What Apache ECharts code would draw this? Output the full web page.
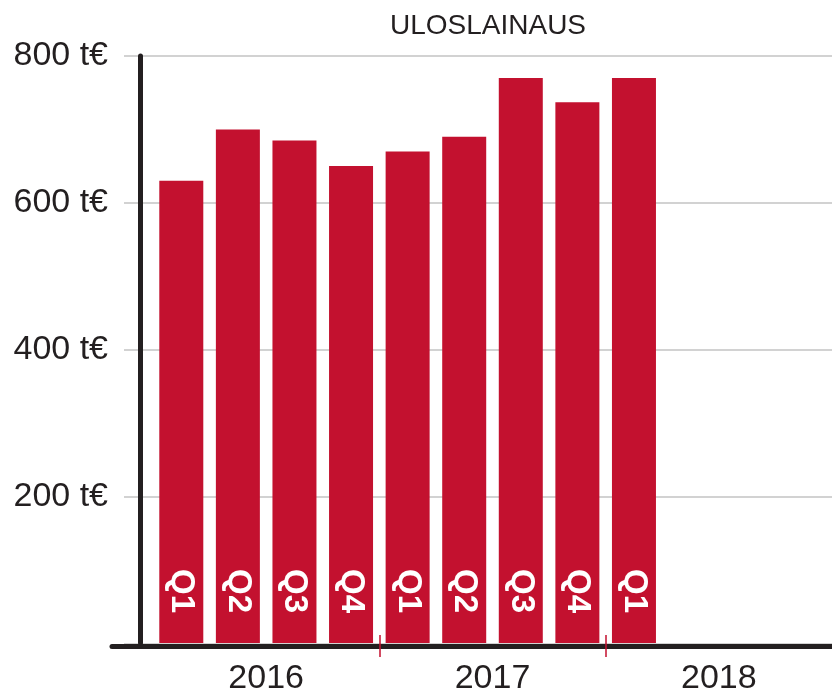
<!DOCTYPE html>
<html>
<head>
<meta charset="utf-8">
<script src="https://cdn.jsdelivr.net/npm/echarts@6/dist/echarts.min.js"></script>
<style>
  html, body { margin: 0; padding: 0; background: #fff; }
  #Chart { width: 832px; height: 696px; }
</style>
</head>
<body>
<div id="Chart"></div>
<script>
var quarterSlots = ['2016 Q1', '2016 Q2', '2016 Q3', '2016 Q4',
                    '2017 Q1', '2017 Q2', '2017 Q3', '2017 Q4',
                    '2018 Q1', '2018 Q2', '2018 Q3', '2018 Q4'];
var quarterLabels = ['Q1', 'Q2', 'Q3', 'Q4', 'Q1', 'Q2', 'Q3', 'Q4', 'Q1'];
var lending = [630, 700, 685, 650, 670, 690, 770, 737, 770];
var years = ['2016', '2017', '2018'];
var yTicks = [0, 200, 400, 600, 800];

var RED = '#c3112f';
var DARK = '#231f20';
var FONT = '"Liberation Sans", Arial, sans-serif';

var Chart = echarts.init(document.getElementById('Chart'));

// quarter boundaries (12 slots -> 13 edges), ticks only where a new year starts
var boundaries = quarterSlots.concat(['end']);
function yearTick(i) { return i > 0 && i < quarterSlots.length && i % 4 === 0; }

var option = {
    animation: false,
    title: {
        text: 'ULOSLAINAUS',
        left: 483,
        top: 7,
        textAlign: 'center',
        textStyle: { fontFamily: FONT, fontSize: 28, fontWeight: 'normal', color: DARK }
    },
    grid: [
        // main plot
        { left: 153, right: -2, top: 56, bottom: 52 },
        // grid lines reach a bit left of the axis
        { left: 124, right: 0, top: 56, bottom: 52 },
        // thick baseline
        { left: 112, right: 0, top: 56, bottom: 49.5 }
    ],
    xAxis: [
        {
            type: 'category', gridIndex: 0, data: quarterSlots,
            axisLine: { show: false }, axisTick: { show: false }, axisLabel: { show: false }
        },
        {
            type: 'category', gridIndex: 0, data: years, position: 'bottom',
            axisLine: { show: false }, axisTick: { show: false },
            axisLabel: { interval: 0, margin: 19, fontFamily: FONT, fontSize: 34, color: DARK }
        },
        {
            type: 'category', gridIndex: 0, data: boundaries, boundaryGap: false, position: 'bottom',
            axisLine: { show: false }, axisLabel: { show: false },
            axisTick: { show: true, length: 14, interval: yearTick,
                        lineStyle: { color: RED, width: 1.5 } }
        },
        {
            type: 'category', gridIndex: 0, data: boundaries, boundaryGap: false, position: 'bottom',
            axisLine: { show: false }, axisLabel: { show: false },
            axisTick: { show: true, inside: true, length: 8, interval: yearTick,
                        lineStyle: { color: RED, width: 1.5 } }
        },
        { type: 'value', gridIndex: 1, show: false },
        {
            type: 'value', gridIndex: 2, min: 0, max: 1,
            axisLine: { show: true, lineStyle: { color: DARK, width: 5 } },
            axisTick: { show: false }, axisLabel: { show: false }, splitLine: { show: false }
        }
    ],
    yAxis: [
        {
            type: 'value', gridIndex: 0, min: yTicks[0], max: yTicks[yTicks.length - 1], interval: 200,
            offset: 13,
            axisLine: { show: true, lineStyle: { color: DARK, width: 5 } },
            axisTick: { show: false },
            splitLine: { show: false },
            axisLabel: {
                margin: 32, fontFamily: FONT, fontSize: 34, color: DARK,
                formatter: function (v) { return v === 0 ? '' : v + ' t€'; }
            }
        },
        {
            type: 'value', gridIndex: 1, min: yTicks[0], max: yTicks[yTicks.length - 1], interval: 200,
            axisLine: { show: false }, axisTick: { show: false }, axisLabel: { show: false },
            splitLine: { show: true, lineStyle: { color: '#d2d2d2', width: 2 } }
        },
        { type: 'value', gridIndex: 2, show: false }
    ],
    series: [
        {
            name: 'Uloslainaus',
            type: 'bar',
            xAxisIndex: 0,
            yAxisIndex: 0,
            barWidth: 44,
            itemStyle: { color: RED },
            label: {
                show: true,
                position: 'insideBottom',
                distance: 30,
                rotate: -90,
                align: 'right',
                verticalAlign: 'middle',
                fontFamily: FONT,
                fontSize: 33,
                fontWeight: 'bold',
                color: '#fff',
                formatter: function (p) { return quarterLabels[p.dataIndex]; }
            },
            data: lending
        }
    ]
};

Chart.setOption(option);
</script>
</body>
</html>
